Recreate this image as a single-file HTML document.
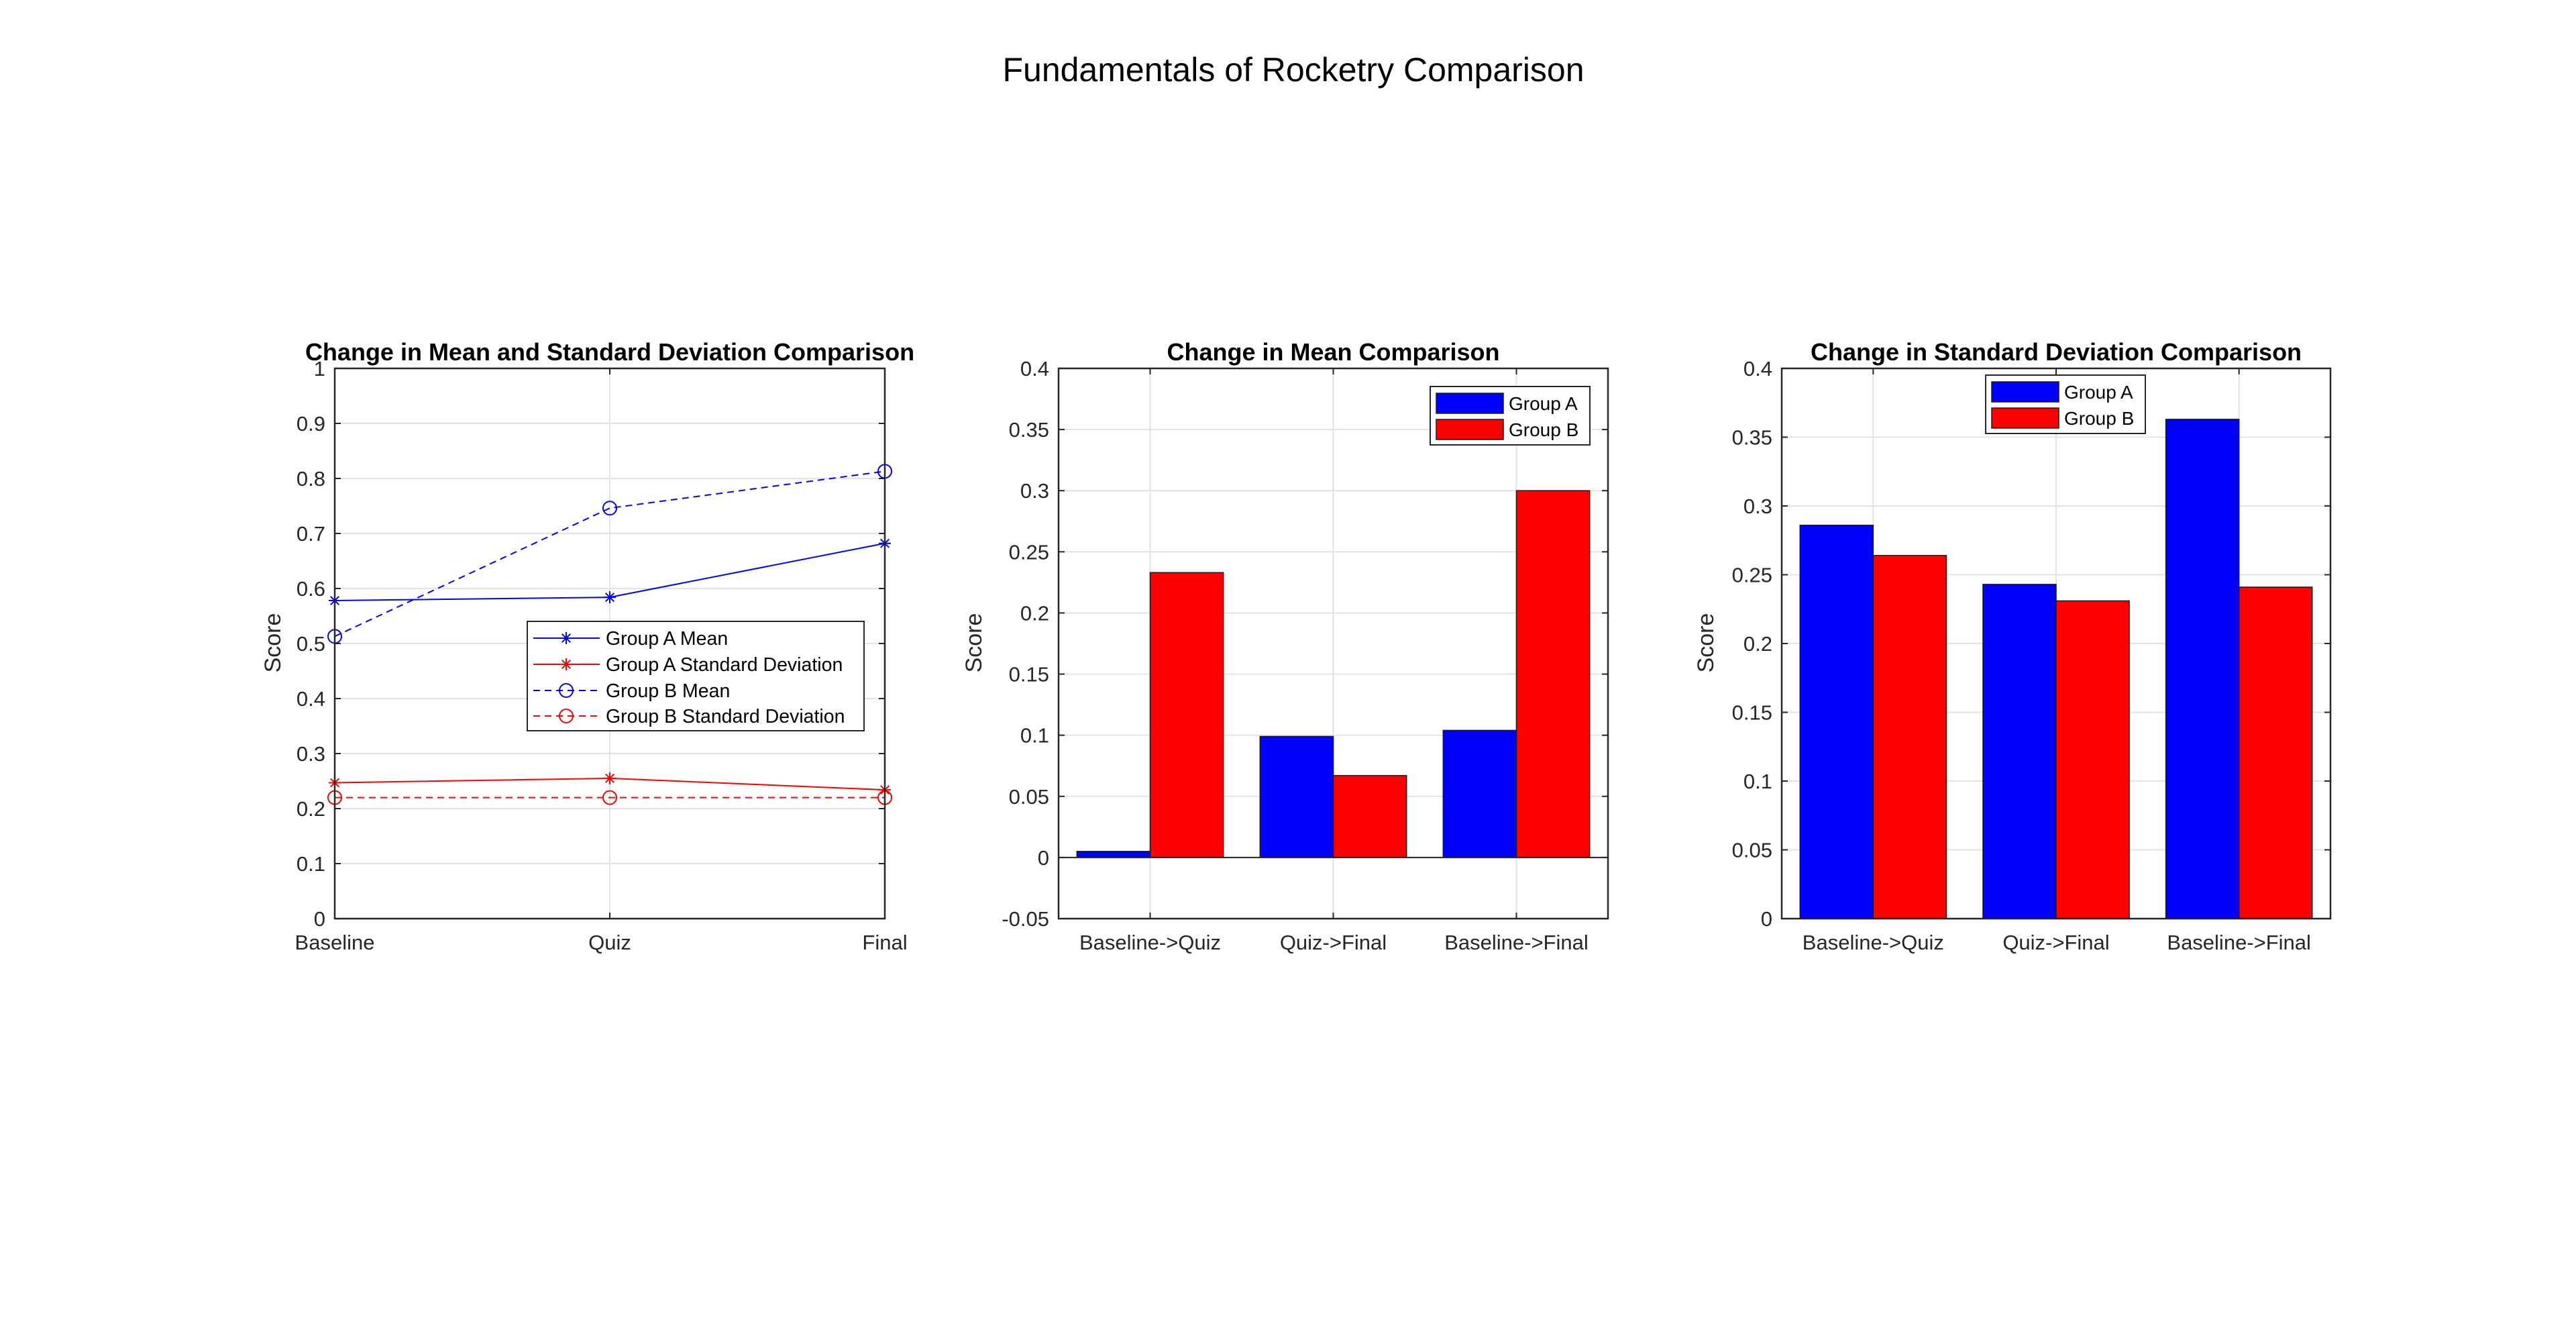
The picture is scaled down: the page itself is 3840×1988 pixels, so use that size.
<!DOCTYPE html>
<html><head><meta charset="utf-8"><style>
html,body{margin:0;padding:0;background:#fff;}
svg{display:block;font-family:"Liberation Sans",Arial,sans-serif;}
</style></head><body>
<svg id="fig" width="3840" height="1988" viewBox="0 0 3840 1988">
<rect width="3840" height="1988" fill="#fff"/>
<text x="1928" y="121" font-size="50" text-anchor="middle" fill="#000">Fundamentals of Rocketry Comparison</text>
</svg>
<script>
const lineCats = ["Baseline","Quiz","Final"];
const groupAMean = [0.578,0.584,0.682];
const groupASD = [0.247,0.255,0.234];
const groupBMean = [0.513,0.746,0.813];
const groupBSD = [0.220,0.220,0.220];
const lineTicks = [0,0.1,0.2,0.3,0.4,0.5,0.6,0.7,0.8,0.9,1];
const lineTickLabels = ["0","0.1","0.2","0.3","0.4","0.5","0.6","0.7","0.8","0.9","1"];

const barCats = ["Baseline->Quiz","Quiz->Final","Baseline->Final"];
const meanA = [0.005,0.099,0.104];
const meanB = [0.233,0.067,0.300];
const meanTicks = [-0.05,0,0.05,0.1,0.15,0.2,0.25,0.3,0.35,0.4];
const meanTickLabels = ["-0.05","0","0.05","0.1","0.15","0.2","0.25","0.3","0.35","0.4"];
const sdA = [0.286,0.243,0.363];
const sdB = [0.264,0.231,0.241];
const sdTicks = [0,0.05,0.1,0.15,0.2,0.25,0.3,0.35,0.4];
const sdTickLabels = ["0","0.05","0.1","0.15","0.2","0.25","0.3","0.35","0.4"];

const NS="http://www.w3.org/2000/svg";
const svg=document.getElementById('fig');
function mk(tag,attrs,parent){const e=document.createElementNS(NS,tag);for(const k in attrs)e.setAttribute(k,attrs[k]);(parent||svg).appendChild(e);return e;}
const TOP=549,BOT=1369;

function axesFrame(g,L,R,ymin,ymax,ticks,labels,xpos,xlabels,title){
  const ys=v=>BOT-(v-ymin)/(ymax-ymin)*(BOT-TOP);
  mk('rect',{x:L,y:TOP,width:R-L,height:BOT-TOP,fill:'#fff'},g);
  ticks.forEach((t,i)=>{
    const y=ys(t);
    const gl=mk('line',{x1:L,x2:R,y1:y,y2:y,stroke:'#e3e3e3','stroke-width':2},g);
    
    
    const tl=mk('text',{x:L-14,y:y+11,'font-size':31,'text-anchor':'end',fill:'#262626'},g);
    tl.textContent=labels[i];
    
    
    mk('line',{x1:L,x2:L+9,y1:y,y2:y,stroke:'#262626','stroke-width':2},g);
    mk('line',{x1:R,x2:R-9,y1:y,y2:y,stroke:'#262626','stroke-width':2},g);
  });
  xpos.forEach((x,i)=>{
    const gl=mk('line',{x1:x,x2:x,y1:TOP,y2:BOT,stroke:'#e3e3e3','stroke-width':2},g);
    
    
    mk('line',{x1:x,x2:x,y1:BOT,y2:BOT-9,stroke:'#262626','stroke-width':2},g);
    mk('line',{x1:x,x2:x,y1:TOP,y2:TOP+9,stroke:'#262626','stroke-width':2},g);
    const tl=mk('text',{x:x,y:1415,'font-size':31,'text-anchor':'middle',fill:'#262626'},g);
    tl.textContent=xlabels[i];
    
    
  });
  const tt=mk('text',{x:(L+R)/2,y:537,'font-size':36,'font-weight':'bold','text-anchor':'middle',fill:'#000'},g);
  tt.textContent=title;
  
  
  return ys;
}
function border(g,L,R){
  const b=mk('rect',{x:L,y:TOP,width:R-L,height:BOT-TOP,fill:'none',stroke:'#262626','stroke-width':2.5},g);
  
  
}
function ylabel(g,x){
  const t=mk('text',{x:x,y:958,'font-size':34,'text-anchor':'middle',fill:'#262626',transform:`rotate(-90 ${x} 958)`},g);
  t.textContent='Score';
  
  
}
function star(g,x,y,c){
  const s=9;
  mk('line',{x1:x-s,x2:x+s,y1:y,y2:y,stroke:c,'stroke-width':2},g);
  mk('line',{x1:x,x2:x,y1:y-s,y2:y+s,stroke:c,'stroke-width':2},g);
  mk('line',{x1:x-s*0.7,x2:x+s*0.7,y1:y-s*0.7,y2:y+s*0.7,stroke:c,'stroke-width':2},g);
  mk('line',{x1:x-s*0.7,x2:x+s*0.7,y1:y+s*0.7,y2:y-s*0.7,stroke:c,'stroke-width':2},g);
}
function circ(g,x,y,c){mk('circle',{cx:x,cy:y,r:10,fill:'none',stroke:c,'stroke-width':2},g);}

// ---- Plot 1 ----
(function(){
  const L=499,R=1319;
  const g=mk('g',{});
  
  
  const xs=i=>L+i*(R-L)/(lineCats.length-1);
  const xpos=lineCats.map((c,i)=>xs(i));
  const ys=axesFrame(g,L,R,0,1,lineTicks,lineTickLabels,xpos,lineCats,'Change in Mean and Standard Deviation Comparison');
  const series=[
    {d:groupAMean,c:'#0000ff',dash:'',m:'star',n:'Group A Mean'},
    {d:groupASD,c:'#ff0000',dash:'',m:'star',n:'Group A Standard Deviation'},
    {d:groupBMean,c:'#0000ff',dash:'10,7',m:'circ',n:'Group B Mean'},
    {d:groupBSD,c:'#ff0000',dash:'10,7',m:'circ',n:'Group B Standard Deviation'}];
  series.forEach(s=>{
    const sg=mk('g',{},g);
    
    
    mk('polyline',{points:s.d.map((v,i)=>xs(i)+','+ys(v)).join(' '),fill:'none',stroke:s.c,'stroke-width':2,'stroke-dasharray':s.dash},sg);
    s.d.forEach((v,i)=>{ if(s.m==='star')star(sg,xs(i),ys(v),s.c); else circ(sg,xs(i),ys(v),s.c); });
  });
  border(g,L,R);
  ylabel(g,418);
  const lg=mk('g',{},g);
  
  
  mk('rect',{x:786,y:926,width:502,height:163,fill:'#fff',stroke:'#262626','stroke-width':2},lg);
  const rows=[951,990,1029,1067];
  series.forEach((s,i)=>{
    const eg=mk('g',{},lg);
    
    
    mk('line',{x1:795,x2:894,y1:rows[i],y2:rows[i],stroke:s.c,'stroke-width':2,'stroke-dasharray':s.dash},eg);
    if(s.m==='star')star(eg,844,rows[i],s.c); else circ(eg,844,rows[i],s.c);
    const t=mk('text',{x:903,y:rows[i]+10,'font-size':28.5,fill:'#000'},eg);
    t.textContent=s.n;
  });
})();

// ---- bar plots ----
function barPlot(L,R,ymin,ymax,ticks,labels,A,B,title,name,leg){
  const g=mk('g',{});
  
  
  const xs=v=>L+(v-0.5)/3*(R-L);
  const xpos=barCats.map((c,i)=>xs(i+1));
  const ys=axesFrame(g,L,R,ymin,ymax,ticks,labels,xpos,barCats,title);
  const y0=ys(0);
  barCats.forEach((c,i)=>{
    const ra=mk('rect',{x:xs(i+1-0.4),y:Math.min(ys(A[i]),y0),width:xs(i+1)-xs(i+1-0.4),height:Math.abs(y0-ys(A[i])),fill:'#0000ff',stroke:'#1a1a1a','stroke-width':1.5},g);
    
    
    const rb=mk('rect',{x:xs(i+1),y:Math.min(ys(B[i]),y0),width:xs(i+1.4)-xs(i+1),height:Math.abs(y0-ys(B[i])),fill:'#ff0000',stroke:'#1a1a1a','stroke-width':1.5},g);
    
    
  });
  if(ymin<0){const bl=mk('line',{x1:L,x2:R,y1:y0,y2:y0,stroke:'#262626','stroke-width':2},g);
    
    }
  border(g,L,R);
  ylabel(g,leg.yl);
  const lg=mk('g',{},g);
  
  
  mk('rect',{x:leg.x,y:leg.y,width:238,height:87,fill:'#fff',stroke:'#262626','stroke-width':2},lg);
  [['Group A','#0000ff'],['Group B','#ff0000']].forEach((e,i)=>{
    const eg=mk('g',{},lg);
    
    
    const cy=leg.y+25+i*39;
    mk('rect',{x:leg.x+9,y:cy-15,width:100,height:30,fill:e[1],stroke:'#1a1a1a','stroke-width':1.5},eg);
    const t=mk('text',{x:leg.x+117,y:cy+10,'font-size':28,fill:'#000'},eg);
    t.textContent=e[0];
  });
}
barPlot(1578,2397,-0.05,0.4,meanTicks,meanTickLabels,meanA,meanB,'Change in Mean Comparison','mean-change-bar-chart',{x:2132,y:576,yl:1463});
barPlot(2656,3474,0,0.4,sdTicks,sdTickLabels,sdA,sdB,'Change in Standard Deviation Comparison','sd-change-bar-chart',{x:2960,y:559,yl:2554});
</script>
</body></html>
